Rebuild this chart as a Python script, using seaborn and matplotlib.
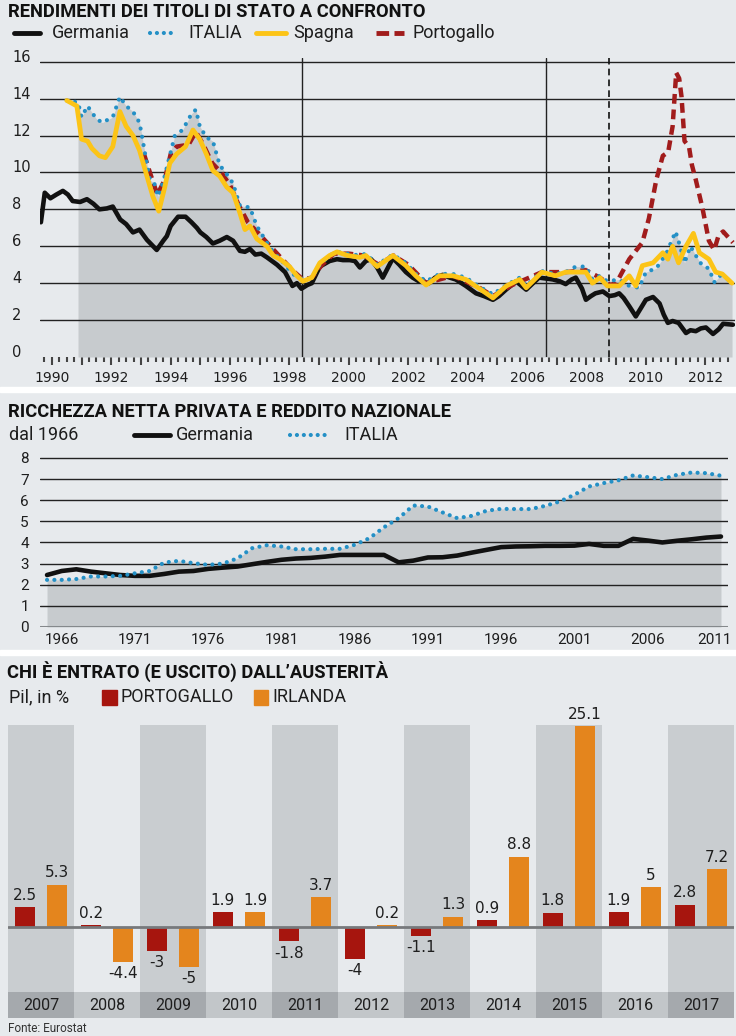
import matplotlib
matplotlib.use("Agg")
import matplotlib.pyplot as plt
import matplotlib.transforms as mtransforms
from matplotlib.lines import Line2D
from matplotlib.patches import Rectangle
import numpy as np
import pandas as pd
import seaborn as sns

# 1. Dati

# Rendimenti dei titoli di stato (%), coppie (anno, rendimento)
germania = [(1989.63, 7.3), (1989.76, 8.9), (1989.95, 8.6), (1990.15, 8.8), (1990.37, 9.0),
            (1990.54, 8.8), (1990.7, 8.45), (1990.95, 8.4), (1991.18, 8.55), (1991.4, 8.3),
            (1991.6, 8.0), (1991.85, 8.05), (1992.05, 8.15), (1992.3, 7.45), (1992.5, 7.2),
            (1992.73, 6.75), (1992.95, 6.9), (1993.2, 6.35), (1993.35, 6.1), (1993.53, 5.8),
            (1993.75, 6.3), (1993.87, 6.55), (1994.0, 7.1), (1994.25, 7.6), (1994.5, 7.6),
            (1994.7, 7.3), (1994.88, 7.0), (1995.0, 6.75), (1995.2, 6.5), (1995.42, 6.15),
            (1995.65, 6.3), (1995.89, 6.5), (1996.1, 6.3), (1996.33, 5.75), (1996.5, 5.7),
            (1996.67, 5.85), (1996.85, 5.55), (1997.05, 5.6), (1997.24, 5.4), (1997.58, 5.0),
            (1997.85, 4.6), (1998.1, 3.85), (1998.25, 4.0), (1998.4, 3.7), (1998.6, 3.9),
            (1998.75, 4.0), (1999.02, 4.9), (1999.35, 5.2), (1999.6, 5.3), (1999.8, 5.25),
            (2000.03, 5.25), (2000.2, 5.2), (2000.37, 4.85), (2000.57, 5.2), (2000.75, 5.3),
            (2000.95, 4.85), (2001.14, 4.3), (2001.48, 5.35), (2001.7, 5.0), (2001.92, 4.6),
            (2002.15, 4.3), (2002.36, 4.1), (2002.7, 4.0), (2002.9, 4.3), (2003.16, 4.45),
            (2003.4, 4.3), (2003.6, 4.2), (2003.94, 3.85), (2004.28, 3.45), (2004.55, 3.3),
            (2004.85, 3.1), (2005.05, 3.3), (2005.29, 3.65), (2005.63, 4.1), (2005.97, 3.65),
            (2006.2, 4.0), (2006.4, 4.3), (2006.65, 4.25), (2006.87, 4.2), (2007.1, 4.1),
            (2007.3, 3.95), (2007.5, 4.2), (2007.64, 4.3), (2007.85, 3.7), (2007.98, 3.1),
            (2008.15, 3.3), (2008.3, 3.45), (2008.55, 3.55), (2008.77, 3.3), (2008.95, 3.35),
            (2009.1, 3.45), (2009.25, 3.2), (2009.44, 2.75), (2009.66, 2.2), (2009.85, 2.7),
            (2010.0, 3.1), (2010.24, 3.25), (2010.46, 2.9), (2010.6, 2.3), (2010.74, 1.85),
            (2010.9, 1.95), (2011.1, 1.85), (2011.35, 1.3), (2011.5, 1.45), (2011.68, 1.4),
            (2011.85, 1.55), (2012.02, 1.6), (2012.26, 1.25), (2012.45, 1.5), (2012.6, 1.8),
            (2012.93, 1.75)]

italia = [(1990.5, 13.9), (1990.88, 13.8), (1991.0, 13.0), (1991.2, 13.6), (1991.5, 12.9),
          (1991.7, 12.7), (1992.05, 13.0), (1992.29, 14.1), (1992.5, 13.6), (1992.73, 13.3),
          (1992.95, 12.7), (1993.03, 12.0), (1993.15, 10.9), (1993.3, 9.6), (1993.45, 9.4),
          (1993.58, 8.7), (1993.75, 9.5), (1993.97, 10.9), (1994.14, 12.0), (1994.4, 12.3),
          (1994.71, 13.2), (1994.85, 13.4), (1994.98, 12.5), (1995.2, 11.9), (1995.42, 11.7),
          (1995.65, 10.4), (1995.89, 9.9), (1996.1, 9.4), (1996.33, 8.2), (1996.67, 8.1),
          (1996.9, 7.1), (1997.2, 6.3), (1997.45, 5.7), (1997.8, 5.1), (1998.1, 4.5),
          (1998.45, 4.2), (1998.75, 4.3), (1999.02, 5.0), (1999.35, 5.5), (1999.6, 5.7),
          (1999.95, 5.6), (2000.37, 5.5), (2000.57, 5.6), (2000.95, 5.0), (2001.48, 5.55),
          (2001.92, 5.1), (2002.25, 4.5), (2002.6, 4.1), (2003.05, 4.5), (2003.5, 4.5),
          (2003.94, 4.3), (2004.4, 3.8), (2004.85, 3.4), (2005.3, 3.9), (2005.75, 4.3),
          (2005.97, 3.85), (2006.5, 4.65), (2006.95, 4.5), (2007.3, 4.6), (2007.64, 4.9),
          (2007.98, 4.9), (2008.2, 4.2), (2008.45, 4.4), (2008.7, 4.1), (2009.1, 4.2),
          (2009.44, 3.85), (2009.77, 3.75), (2010.0, 4.6), (2010.35, 4.8), (2010.7, 5.65),
          (2011.0, 6.8), (2011.15, 6.0), (2011.3, 5.1), (2011.5, 6.0), (2011.68, 5.5),
          (2011.9, 4.95), (2012.12, 4.8), (2012.3, 4.05), (2012.5, 4.4), (2012.9, 4.1)]

spagna = [(1990.5, 13.9), (1990.84, 13.6), (1991.0, 11.8), (1991.2, 11.7), (1991.35, 11.3),
          (1991.6, 10.9), (1991.8, 10.8), (1992.05, 11.4), (1992.29, 13.3), (1992.5, 12.5),
          (1992.73, 12.0), (1992.95, 11.2), (1993.2, 9.8), (1993.4, 8.7), (1993.6, 7.9),
          (1993.8, 9.2), (1993.97, 10.5), (1994.2, 11.0), (1994.5, 11.4), (1994.75, 12.3),
          (1994.98, 11.8), (1995.2, 11.0), (1995.42, 10.1), (1995.65, 9.8), (1995.89, 9.2),
          (1996.1, 8.9), (1996.33, 7.8), (1996.5, 6.9), (1996.67, 7.1), (1996.9, 6.4),
          (1997.24, 6.0), (1997.45, 5.5), (1997.68, 5.3), (1998.0, 4.9), (1998.25, 4.4),
          (1998.45, 4.1), (1998.75, 4.3), (1999.02, 5.1), (1999.35, 5.5), (1999.6, 5.7),
          (1999.95, 5.5), (2000.37, 5.4), (2000.57, 5.5), (2000.95, 4.9), (2001.48, 5.5),
          (2001.92, 4.95), (2002.25, 4.4), (2002.6, 3.9), (2003.05, 4.4), (2003.5, 4.4),
          (2003.94, 4.2), (2004.4, 3.7), (2004.85, 3.2), (2005.3, 3.85), (2005.75, 4.2),
          (2005.97, 3.75), (2006.5, 4.6), (2006.95, 4.4), (2007.3, 4.6), (2007.75, 4.6),
          (2007.98, 4.6), (2008.2, 4.0), (2008.45, 4.3), (2008.7, 3.85), (2009.1, 3.85),
          (2009.44, 4.4), (2009.66, 3.85), (2009.88, 4.95), (2010.24, 5.1), (2010.57, 5.65),
          (2010.74, 5.3), (2010.9, 6.0), (2011.1, 5.1), (2011.35, 6.0), (2011.6, 6.7),
          (2011.8, 5.65), (2012.12, 5.3), (2012.35, 4.6), (2012.57, 4.5), (2012.9, 4.0)]

portogallo = [(1993.1, 11.0), (1993.3, 10.0), (1993.55, 8.8), (1993.8, 9.6), (1994.0, 11.0),
              (1994.2, 11.4), (1994.6, 11.5), (1994.85, 12.2), (1995.1, 11.5), (1995.4, 10.5),
              (1995.7, 10.0), (1996.0, 9.3), (1996.3, 8.2), (1996.6, 7.3), (1996.9, 6.8),
              (1997.3, 6.1), (1997.7, 5.4), (1998.1, 4.7), (1998.45, 4.2), (1998.75, 4.3),
              (1999.1, 5.0), (1999.5, 5.6), (2000.0, 5.6), (2000.5, 5.5), (2001.0, 5.0),
              (2001.5, 5.5), (2002.0, 5.0), (2002.6, 4.0), (2003.5, 4.4), (2004.4, 3.75),
              (2004.85, 3.3), (2005.5, 3.9), (2006.5, 4.6), (2007.3, 4.6), (2007.98, 4.7),
              (2008.45, 4.3), (2008.8, 3.9), (2009.0, 4.0), (2009.44, 5.3), (2009.88, 6.2),
              (2010.1, 7.5), (2010.35, 9.6), (2010.57, 10.9), (2010.75, 11.1), (2010.9, 12.5),
              (2011.02, 15.4), (2011.12, 15.1), (2011.2, 14.1), (2011.3, 11.7), (2011.45, 11.4),
              (2011.55, 10.4), (2011.68, 9.6), (2011.9, 8.1), (2012.12, 6.3), (2012.3, 5.8),
              (2012.45, 6.6), (2012.6, 6.8), (2012.93, 6.2)]

# Ricchezza netta privata / reddito nazionale, dal 1965 al 2011
anni_ric = list(range(1965, 2012))
ric_germania = [2.46, 2.65, 2.73, 2.62, 2.54, 2.46, 2.42, 2.42, 2.51, 2.62,
                2.65, 2.75, 2.81, 2.86, 2.97, 3.08, 3.18, 3.24, 3.27, 3.33,
                3.41, 3.41, 3.41, 3.41, 3.06, 3.14, 3.29, 3.3, 3.38, 3.52,
                3.65, 3.78, 3.81, 3.82, 3.84, 3.84, 3.85, 3.93, 3.84, 3.84,
                4.17, 4.09, 4.0, 4.08, 4.15, 4.23, 4.28]
ric_italia = [2.23, 2.23, 2.27, 2.39, 2.39, 2.42, 2.54, 2.65, 3.05, 3.13,
              3.02, 2.94, 3.0, 3.25, 3.73, 3.87, 3.81, 3.68, 3.68, 3.70,
              3.70, 3.89, 4.2, 4.72, 5.15, 5.75, 5.7, 5.42, 5.15, 5.26,
              5.5, 5.59, 5.58, 5.58, 5.73, 5.94, 6.26, 6.65, 6.81, 6.94,
              7.17, 7.09, 7.0, 7.2, 7.31, 7.28, 7.16]
ric_tick = [1966, 1971, 1976, 1981, 1986, 1991, 1996, 2001, 2006, 2011]

# Pil, in %
anni_pil = ["2007", "2008", "2009", "2010", "2011", "2012", "2013", "2014", "2015", "2016", "2017"]
pil_portogallo = [2.5, 0.2, -3, 1.9, -1.8, -4, -1.1, 0.9, 1.8, 1.9, 2.8]
pil_irlanda = [5.3, -4.4, -5, 1.9, 3.7, 0.2, 1.3, 8.8, 25.1, 5, 7.2]

# 2. Stile

SFONDO = "#e7eaed"
GRIGIO = "#c7cbce"
NERO = "#111111"
BLU = "#2490c6"
GIALLO = "#fcc417"
ROSSO_L = "#a11c1c"
ROSSO = "#a6150e"
ARANCIO = "#e4851d"
BANDA = "#c9cdd0"
CELLA_SCURA = "#a5a9ad"
CELLA_CHIARA = "#c2c6c9"
TESTO = "#1e1e1e"

sns.set_theme(style="white")
plt.rcParams["font.family"] = ["DejaVu Sans"]
plt.rcParams["axes.unicode_minus"] = False

W, H = 736, 1036
fig = plt.figure(figsize=(7.36, 10.36), dpi=100, facecolor=SFONDO)


def fx(x):
    return x / W


def fy(y):
    return 1 - y / H


def riquadro(x0, y0, x1, y1):
    ax = fig.add_axes([fx(x0), fy(y1), (x1 - x0) / W, (y1 - y0) / H])
    ax.patch.set_visible(False)
    for s in ax.spines.values():
        s.set_visible(False)
    return ax


TITOLO = dict(family="Roboto", weight="bold", size=13.2, color="#111111", va="center", ha="left")
LEG = dict(family="Roboto", size=13, color=TESTO, va="center", ha="left")

# separatori bianchi tra i pannelli
for y0, y1 in [(387, 392), (650, 655)]:
    fig.patches.append(Rectangle((0, fy(y1)), 1, (y1 - y0) / H, transform=fig.transFigure,
                                 color="white", zorder=0))

# 3. Rendimenti

ger_anno, ger_rend = zip(*germania)
ita_anno, ita_rend = zip(*italia)
spa_anno, spa_rend = zip(*spagna)
por_anno, por_rend = zip(*portogallo)

fig.text(fx(8), fy(12), "RENDIMENTI DEI TITOLI DI STATO A CONFRONTO", **TITOLO)
fig.add_artist(Line2D([fx(14), fx(40)], [fy(33), fy(33)], color=NERO, lw=3.5))
fig.text(fx(52), fy(33), "Germania", **LEG)
fig.add_artist(Line2D([fx(150), fx(176)], [fy(33), fy(33)], color=BLU, lw=3,
                      linestyle=(0, (0.01, 1.65)), dash_capstyle="round"))
fig.text(fx(188), fy(33), "ITALIA", **LEG)
fig.add_artist(Line2D([fx(256), fx(286)], [fy(33), fy(33)], color=GIALLO, lw=3.5))
fig.text(fx(293), fy(33), "Spagna", **LEG)
fig.add_artist(Line2D([fx(376), fx(404)], [fy(33), fy(33)], color=ROSSO_L, lw=3.5,
                      linestyle=(0, (2.6, 1.1))))
fig.text(fx(413), fy(33), "Portogallo", **LEG)

ax1 = riquadro(40, 58, 735, 357)
ax1.fill_between(ita_anno[1:], ita_rend[1:], 0, color=GRIGIO, lw=0, zorder=1)
for v in range(2, 17, 2):
    ax1.axhline(v, color="#222222", lw=1, zorder=2)
ax1.axvline(1998.42, color="#222222", lw=1, zorder=2)
ax1.axvline(2006.63, color="#222222", lw=1, zorder=2)
ax1.axvline(2008.75, color="#111111", lw=1.2, ls=(0, (4, 2.5)), zorder=2)

sns.lineplot(x=ger_anno, y=ger_rend, ax=ax1, color=NERO, lw=3.3, zorder=3)
sns.lineplot(x=por_anno, y=por_rend, ax=ax1, color=ROSSO_L, lw=3.2, linestyle=(0, (2.2, 1.3)), zorder=4)
sns.lineplot(x=ita_anno, y=ita_rend, ax=ax1, color=BLU, lw=3, linestyle=(0, (0.01, 2.0)),
             dash_capstyle="round", zorder=5)
sns.lineplot(x=spa_anno, y=spa_rend, ax=ax1, color=GIALLO, lw=3.4, zorder=6)

ax1.set_xlim(1989.6, 2013.0)
ax1.set_ylim(0, 16.2)
anni_tick = list(range(1990, 2013))
ax1.set_xticks(anni_tick)
ax1.set_xticklabels([str(a) if a % 2 == 0 else "" for a in anni_tick])
ax1.set_xticks([a + q for a in range(1989, 2013) for q in (0.25, 0.5, 0.75) if 1989.6 < a + q < 2013], minor=True)
ax1.set_yticks([])
ax1.tick_params(axis="x", which="major", bottom=True, length=6, width=1.5, color="#444444",
                pad=4, labelsize=10, labelcolor=TESTO)
ax1.tick_params(axis="x", which="minor", bottom=True, length=3.5, width=1.5, color="#444444")
ax1.set_xlabel("")
ax1.set_ylabel("")
trans1 = mtransforms.blended_transform_factory(fig.transFigure, ax1.transData)
for v in range(0, 17, 2):
    ax1.text(fx(12), v, str(v), transform=trans1, ha="left", va="baseline",
             fontsize=10.5, color=TESTO)

# 4. Ricchezza netta privata

fig.text(fx(8), fy(412), "RICCHEZZA NETTA PRIVATA E REDDITO NAZIONALE", **TITOLO)
fig.text(fx(9), fy(435), "dal 1966", **LEG)
fig.add_artist(Line2D([fx(134), fx(170)], [fy(435), fy(435)], color=NERO, lw=3.5))
fig.text(fx(176), fy(435), "Germania", **LEG)
fig.add_artist(Line2D([fx(290), fx(328)], [fy(435), fy(435)], color=BLU, lw=3,
                      linestyle=(0, (0.01, 1.65)), dash_capstyle="round"))
fig.text(fx(344), fy(435), "ITALIA", **LEG)

ax2 = riquadro(40, 452, 728, 627)
ax2.fill_between(anni_ric, ric_italia, 0, color=GRIGIO, lw=0, zorder=1)
for v in range(1, 9):
    ax2.axhline(v, color="#222222", lw=1, zorder=2)
ax2.axhline(0, color="#85898c", lw=2.2, zorder=2)
sns.lineplot(x=anni_ric, y=ric_germania, ax=ax2, color=NERO, lw=3.3, zorder=3)
sns.lineplot(x=anni_ric, y=ric_italia, ax=ax2, color=BLU, lw=3, linestyle=(0, (0.01, 1.75)),
             dash_capstyle="round", zorder=4)
ax2.set_xlim(1964.52, 2011.48)
ax2.set_ylim(0, 8.28)
ax2.set_xticks([])
ax2.set_yticks(range(0, 9))
ax2.tick_params(length=0, labelsize=11, labelcolor=TESTO)
ax2.tick_params(axis="y", pad=8)
for lab in ax2.get_yticklabels():
    lab.set_family("Roboto")
trans2 = mtransforms.blended_transform_factory(ax2.transData, fig.transFigure)
for a in ric_tick:
    tr = trans2 if a != ric_tick[-1] else mtransforms.offset_copy(trans2, fig=fig, x=-7, units="dots")
    ax2.text(a, fy(640), str(a), transform=tr, ha="center", va="center",
             family="Roboto", fontsize=11, color=TESTO)
ax2.set_xlabel("")
ax2.set_ylabel("")

# 5. Austerità

fig.text(fx(7), fy(672), "CHI È ENTRATO (E USCITO) DALL’AUSTERITÀ", **TITOLO)
fig.text(fx(9), fy(697), "Pil, in %", **LEG)
fig.patches.append(Rectangle((fx(102), fy(705)), 15 / W, 15 / H, transform=fig.transFigure, color=ROSSO))
fig.text(fx(121), fy(697), "PORTOGALLO", **LEG)
fig.patches.append(Rectangle((fx(254), fy(705)), 14 / W, 15 / H, transform=fig.transFigure, color=ARANCIO))
fig.text(fx(272), fy(697), "IRLANDA", **LEG)
fig.text(fx(8), fy(1029), "Fonte: Eurostat", family="Roboto", size=8.5, color="#333333",
         va="center", ha="left")

pil = pd.DataFrame({
    "anno": anni_pil * 2,
    "paese": ["PORTOGALLO"] * len(anni_pil) + ["IRLANDA"] * len(anni_pil),
    "valore": pil_portogallo + pil_irlanda,
})

ax3 = riquadro(8, 705, 734, 1018)
sns.barplot(data=pil, x="anno", y="valore", hue="paese", hue_order=["PORTOGALLO", "IRLANDA"],
            palette={"PORTOGALLO": ROSSO, "IRLANDA": ARANCIO}, width=0.98, gap=0.39,
            saturation=1, linewidth=0, legend=False, ax=ax3, zorder=3)
barre = list(ax3.containers)
for c in barre:
    ax3.bar_label(c, labels=[f"{v:g}" for v in c.datavalues], padding=3,
                  fontsize=11, color=TESTO, zorder=5)

fondo, cima, base = -8.125, 25.25, -11.375
pos = np.arange(len(anni_pil))
ax3.bar(pos[::2], cima - fondo, bottom=fondo, width=1, color=BANDA, lw=0, zorder=0)
ax3.bar(pos, fondo - base, bottom=base, width=1, lw=0, zorder=0,
        color=[CELLA_SCURA if i % 2 == 0 else CELLA_CHIARA for i in pos])
for i, a in zip(pos, anni_pil):
    ax3.text(i, (fondo + base) / 2, a, ha="center", va="center", family="Roboto",
             fontsize=11.5, color=TESTO)
ax3.axhline(0, color="#77797c", lw=2, zorder=4)
ax3.set_xlim(-0.5, len(anni_pil) - 0.5)
ax3.set_ylim(base, 27.75)
ax3.set_xticks([])
ax3.set_yticks([])
ax3.set_xlabel("")
ax3.set_ylabel("")

fig.savefig("out.png", dpi=100, facecolor=fig.get_facecolor())
